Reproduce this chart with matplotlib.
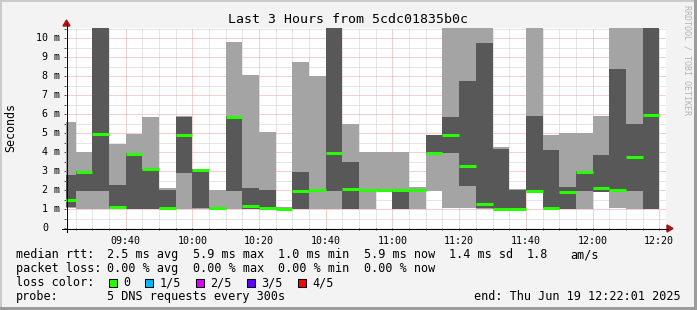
import matplotlib
matplotlib.use("Agg")
import matplotlib.pyplot as plt
import pandas as pd
from matplotlib.lines import Line2D
from matplotlib.patches import Polygon, Rectangle

# ---------------- data (milliseconds) ----------------
bar_start = pd.date_range("2025-06-19 09:20", periods=36, freq="5min")
ping_min = [1.05, 1.00, 1.00, 1.02, 1.00, 1.00, 1.00, 1.00, 1.00, 1.00, 1.00, 1.00,
            0.97, 0.97, 0.98, 1.00, 1.00, 1.00, 1.00, 1.95, 0.98, 1.00, 1.97, 1.06,
            1.04, 0.99, 0.98, 0.98, 1.95, 1.00, 0.98, 0.99, 1.90, 1.04, 0.99, 0.99]
ping_p2 = [1.08, 1.97, 1.97, 1.04, 1.00, 1.00, 1.03, 2.92, 1.03, 1.02, 1.97, 1.02,
           1.00, 0.98, 1.00, 1.97, 1.97, 1.02, 1.98, 1.98, 1.00, 1.97, 3.94, 3.96,
           2.22, 1.07, 0.99, 0.99, 1.96, 1.03, 1.00, 1.97, 1.92, 1.97, 1.97, 1.00]
ping_median = [1.48, 2.96, 4.94, 1.11, 3.92, 3.10, 1.06, 4.89, 3.05, 1.06, 5.84, 1.14,
               1.04, 1.00, 1.97, 2.00, 3.96, 2.04, 2.00, 2.00, 2.00, 2.00, 3.96, 4.87,
               3.24, 1.25, 1.00, 0.99, 1.97, 1.07, 1.88, 2.96, 2.11, 1.99, 3.76, 5.93]
ping_p4 = [2.80, 3.00, 11.5, 2.27, 3.95, 3.10, 2.00, 5.86, 3.08, 1.08, 5.88, 2.11,
           2.00, 1.02, 2.97, 2.02, 11.5, 3.45, 2.02, 2.02, 2.02, 2.02, 4.91, 5.86,
           7.76, 9.75, 4.17, 2.00, 5.88, 4.12, 2.18, 2.99, 3.85, 8.39, 5.49, 11.5]
ping_max = [5.59, 4.01, 12.5, 4.40, 4.96, 5.86, 2.11, 5.87, 3.10, 2.00, 9.78, 8.07,
            5.07, 1.08, 8.76, 8.02, 12.5, 5.45, 4.01, 4.01, 4.01, 2.15, 4.92, 12.5,
            12.5, 12.5, 4.27, 2.06, 12.5, 4.91, 5.00, 5.00, 5.88, 12.5, 12.5, 12.5]

x_tick_labels = ["09:40", "10:00", "10:20", "10:40", "11:00", "11:20", "11:40", "12:00", "12:20"]
y_tick_values = [0, 1, 2, 3, 4, 5, 6, 7, 8, 9, 10]
y_tick_labels = ["0", "1 m", "2 m", "3 m", "4 m", "5 m", "6 m", "7 m", "8 m", "9 m", "10 m"]

loss_labels = ["0", "1/5", "2/5", "3/5", "4/5"]
loss_colors = ["#26ff00", "#00b8ff", "#dd00ff", "#5e00ff", "#ff0000"]

title = "Last 3 Hours from 5cdc01835b0c"
window_end = "12:22:01"
window_hours = 3

# ---------------- figure ----------------
W, H = 697, 310
MONO = "DejaVu Sans Mono"
BG = "#f3f3f3"

fig = plt.figure(figsize=(W / 100, H / 100), dpi=100, facecolor=BG)


def fx(x):
    return x / W


def fy(y):
    return 1 - y / H


ax = fig.add_axes([65.7 / W, 82 / H, 600.3 / W, 200.45 / H])
ax.set_facecolor("white")
ax.set_axisbelow(True)

minutes = [t.hour * 60 + t.minute for t in bar_start]
step = 5
eh, em, es = [int(v) for v in window_end.split(":")]
x_end = eh * 60 + em + es / 60
x_start = x_end - window_hours * 60

light_h = [mx - mn for mn, mx in zip(ping_min, ping_max)]
dark_h = [b - a for a, b in zip(ping_p2, ping_p4)]
ax.bar(minutes, light_h, bottom=ping_min, width=step, align="edge",
       color="#a4a4a4", linewidth=0, antialiased=False, zorder=2)
ax.bar(minutes, dark_h, bottom=ping_p2, width=step, align="edge",
       color="#585858", linewidth=0, antialiased=False, zorder=3)
lc = ax.hlines(ping_median, minutes, [m + step for m in minutes],
               colors=loss_colors[0], linewidth=2.2, zorder=4)
lc.set_capstyle("butt")

ax.set_xlim(x_start, x_end)
ax.set_ylim(0, 10.55)

# grid
major_x = [int(s[:2]) * 60 + int(s[3:]) for s in x_tick_labels]
minor_x = list(range(int(x_start) // 5 * 5 + 5, int(x_end) + 1, 5))
ax.set_xticks(major_x)
ax.set_xticklabels(x_tick_labels, fontsize=7.2, family=MONO)
ax.set_xticks(minor_x, minor=True)
ax.set_yticks(y_tick_values)
ax.set_yticklabels([])
ax.set_yticks([v + 0.5 for v in y_tick_values[:-1]] + [10.5], minor=True)
ax.tick_params(axis="both", which="both", direction="out", length=1.5, width=0.7,
               color="#555555")
ax.tick_params(axis="x", which="major", pad=4)
ax.grid(which="minor", color="#cdcdcd", linestyle=(0, (1, 1)), linewidth=0.72)
ax.grid(which="major", color="#f0a0a0", linestyle=(0, (1, 1)), linewidth=0.72)
for s in ax.spines.values():
    s.set_visible(False)

ytr = ax.get_yaxis_transform()
for v, lab in zip(y_tick_values, y_tick_labels):
    if lab.endswith("m"):
        ax.text((60 - 65.7) / 600.3, v, lab, transform=ytr, ha="right", va="center",
                fontsize=7.2, family=MONO)
    else:
        ax.text((48 - 65.7) / 600.3, v, lab, transform=ytr, ha="right", va="center",
                fontsize=7.2, family=MONO)

# axis lines and arrows
fig.add_artist(Line2D([fx(62), fx(668)], [fy(228.5), fy(228.5)], color="black", lw=0.75))
fig.add_artist(Line2D([fx(66.5), fx(66.5)], [fy(232), fy(23)], color="black", lw=0.75))
fig.add_artist(Polygon([(fx(667), fy(225)), (fx(673), fy(228.5)), (fx(667), fy(232))],
                       closed=True, color="#b01010", transform=fig.transFigure))
fig.add_artist(Polygon([(fx(63), fy(26)), (fx(66.5), fy(20)), (fx(70), fy(26))],
                       closed=True, color="#b01010", transform=fig.transFigure))

# title, axis label, watermark
fig.text(0.5, fy(19.5), title, ha="center", va="center", fontsize=9.5, family=MONO)
fig.text(fx(10.5), fy(128), "Seconds", rotation=90, ha="center", va="center",
         fontsize=8.4, family=MONO)
fig.text(fx(687), fy(60), "RRDTOOL / TOBI OETIKER", rotation=-90, ha="center",
         va="center", fontsize=6.0, family=MONO, color="#b4b4b4")

# legend
LF = 8.45
rows = [
    (258, [(16, "median rtt:"), (107, "2.5 ms avg"), (193, "5.9 ms max"),
           (278, "1.0 ms min"), (364, "5.9 ms now"), (449, "1.4 ms sd"),
           (527, "1.8"), (570, "am/s")]),
    (272, [(16, "packet loss:"), (107, "0.00 % avg"), (193, "0.00 % max"),
           (278, "0.00 % min"), (364, "0.00 % now")]),
    (286, [(16, "loss color:")]),
    (300, [(16, "probe:"), (107, "5 DNS requests every 300s")]),
]
for yb, segs in rows:
    for x, s in segs:
        fig.text(fx(x), fy(yb), s, ha="left", va="baseline", fontsize=LF, family=MONO)
fig.text(fx(681), fy(300), "end: Thu Jun 19 12:22:01 2025", ha="right", va="baseline",
         fontsize=LF, family=MONO)

box_x = [108.5, 145, 196, 247, 298]
for bx, lab, col in zip(box_x, loss_labels, loss_colors):
    fig.add_artist(Rectangle((fx(bx), fy(286.5)), 8 / W, 8 / H, transform=fig.transFigure,
                             facecolor=col, edgecolor="black", linewidth=0.75))
    fig.text(fx(bx + 14.5), fy(286), lab, ha="left", va="baseline", fontsize=LF, family=MONO)

# frame shading
fig.add_artist(Rectangle((0, fy(2)), 1, 2 / H, transform=fig.transFigure,
                         facecolor="#cbcbcb", edgecolor="none"))
fig.add_artist(Rectangle((0, 0), 2 / W, 1, transform=fig.transFigure,
                         facecolor="#cbcbcb", edgecolor="none"))
fig.add_artist(Rectangle((fx(694), 0), 3 / W, 1, transform=fig.transFigure,
                         facecolor="#9c9c9c", edgecolor="none"))
fig.add_artist(Rectangle((0, 0), 1, 3 / H, transform=fig.transFigure,
                         facecolor="#9c9c9c", edgecolor="none"))

fig.savefig("out.png", dpi=100, facecolor=BG)
